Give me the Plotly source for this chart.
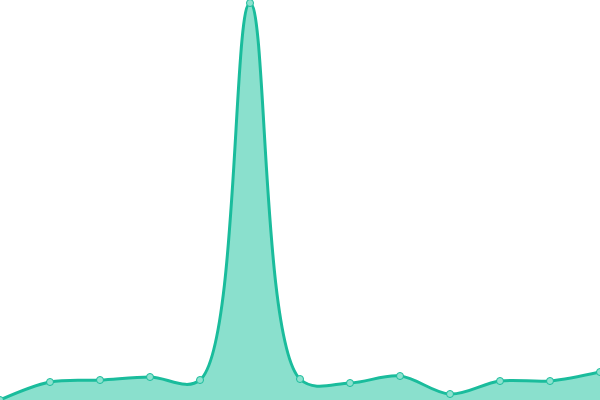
import plotly.graph_objects as go

# ---------- Data ----------
x_vals = [0, 50, 100, 150, 200, 250, 300, 350, 400, 450, 500, 550, 600]
y_vals = [0, 18, 20, 23, 20, 397, 21, 17, 24, 6, 19, 19, 28]

# ---------- Figure ----------
fig = go.Figure(go.Scatter(
    x=x_vals, y=y_vals,
    mode="lines+markers",
    line=dict(color="#1abc9c", width=3, shape="spline", smoothing=1),
    marker=dict(size=7, color="#8ee2cf", line=dict(color="#1abc9c", width=1)),
    fill="tozeroy",
    fillcolor="#8ae0cd",
))

fig.update_layout(
    width=600, height=400,
    margin=dict(l=0, r=0, t=0, b=0),
    paper_bgcolor="white", plot_bgcolor="white",
    showlegend=False,
    xaxis=dict(range=[0, 600], visible=False),
    yaxis=dict(range=[0, 400], visible=False),
)

# the page body has a default margin; drop it so the chart sits flush
fig.write_html("out.html", config={"displayModeBar": False},
               post_script="document.body.style.margin='0';")
